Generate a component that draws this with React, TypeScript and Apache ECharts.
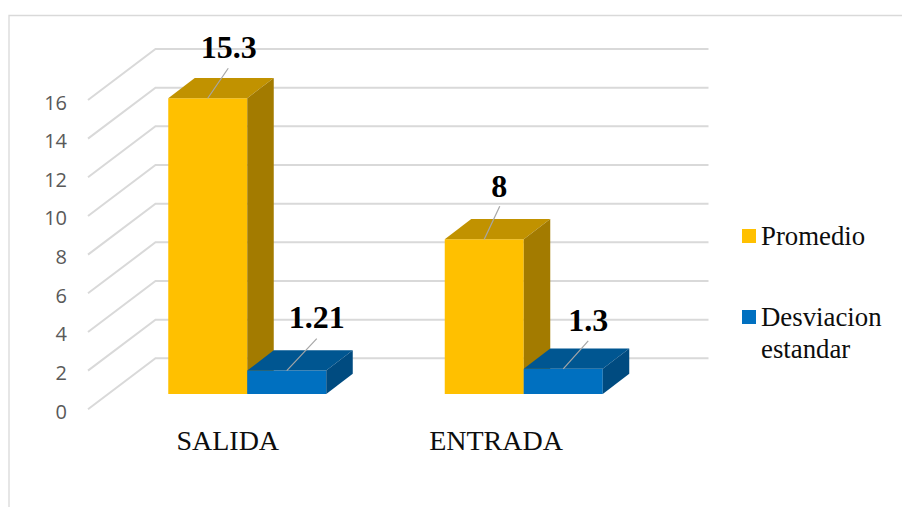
import React, { useEffect, useRef } from "react";
import * as echarts from "echarts";

const categories = ["SALIDA", "ENTRADA"];
const promedio = [15.3, 8];
const desviacion = [1.21, 1.3];
const yTicks = [0, 2, 4, 6, 8, 10, 12, 14, 16];

const SERIF = "'Liberation Serif', 'Times New Roman', serif";
const SANS = "'Open Sans', 'Noto Sans', sans-serif";
const GRID_COLOR = "#d9d9d9";
const BAR_W = 79;
const WALL_DX = 67.5;
const WALL_DY = 51;
const FLOOR_DX = 21;
const FLOOR_DY = 15.3;
const DEPTH_DX = 26.5;
const DEPTH_DY = 20.3;

// leader end and label centre, relative to the middle of each bar's top front edge
const promedioLabelOffsets = [
  { lx: 20.5, ly: -30, tx: 21, ty: -51 },
  { lx: 15.5, ly: -33, tx: 15, ty: -53 },
];
const desviacionLabelOffsets = [
  { lx: 30, ly: -32, tx: 30, ty: -54 },
  { lx: 25, ly: -28, tx: 25, ty: -49 },
];

function bar3d(
  colors: { front: string; top: string; side: string },
  side: -1 | 0,
  offsets: { lx: number; ly: number; tx: number; ty: number }[]
) {
  return (params: any, api: any) => {
    const cat = api.value(0);
    const val = api.value(1);
    const base = api.coord([cat, 0]);
    const top = api.coord([cat, val]);
    const x0 = base[0] + FLOOR_DX + side * BAR_W;
    const x1 = x0 + BAR_W;
    const yb = base[1] - FLOOR_DY;
    const yt = top[1] - FLOOR_DY;
    const cx = (x0 + x1) / 2;
    const o = offsets[params.dataIndex];
    return {
      type: "group",
      children: [
        {
          type: "polygon",
          shape: { points: [[x0, yb], [x1, yb], [x1, yt], [x0, yt]] },
          style: { fill: colors.front },
        },
        {
          type: "polygon",
          shape: { points: [[x0, yt], [x1, yt], [x1 + DEPTH_DX, yt - DEPTH_DY], [x0 + DEPTH_DX, yt - DEPTH_DY]] },
          style: { fill: colors.top },
        },
        {
          type: "polygon",
          shape: { points: [[x1, yb], [x1 + DEPTH_DX, yb - DEPTH_DY], [x1 + DEPTH_DX, yt - DEPTH_DY], [x1, yt]] },
          style: { fill: colors.side },
        },
        {
          type: "line",
          shape: { x1: cx, y1: yt, x2: cx + o.lx, y2: yt + o.ly },
          style: { stroke: "#a6a6a6", lineWidth: 1.2 },
        },
        {
          type: "text",
          style: {
            text: String(val),
            x: cx + o.tx,
            y: yt + o.ty,
            align: "center",
            verticalAlign: "middle",
            fontFamily: SERIF,
            fontWeight: "bold",
            fontSize: 32,
            fill: "#000000",
          },
        },
      ],
    };
  };
}

function wallLine(params: any, api: any) {
  const y = api.coord([0, api.value(1)])[1];
  const x0 = params.coordSys.x;
  const x1 = x0 + params.coordSys.width;
  return {
    type: "polyline",
    shape: { points: [[x0, y], [x0 + WALL_DX, y - WALL_DY], [x1 + WALL_DX, y - WALL_DY]] },
    style: { stroke: GRID_COLOR, lineWidth: 2, fill: "none" },
  };
}

export default function App() {
  const ref = useRef<HTMLDivElement>(null);
  useEffect(() => {
    document.body.style.margin = "0";
    const chart = echarts.init(ref.current!, undefined, { renderer: "svg" });
    chart.setOption({
      animation: false,
      backgroundColor: "#ffffff",
      grid: { left: 88, top: 100, width: 553, height: 309.3 },
      graphic: [
        {
          type: "polyline",
          shape: { points: [[9, 507], [9, 15.5], [902, 15.5]] },
          style: { stroke: GRID_COLOR, lineWidth: 1.3, fill: "none" },
          silent: true,
        },
      ],
      legend: {
        orient: "vertical",
        left: 742,
        top: 220,
        padding: 0,
        itemGap: 17,
        itemWidth: 14,
        itemHeight: 14,
        icon: "rect",
        selectedMode: false,
        // a blank first line keeps the square level with "Desviacion"
        formatter: (name: string) => (name.includes(" ") ? "\n" + name.replace(" ", "\n") : name),
        textStyle: { fontFamily: SERIF, fontSize: 26.8, lineHeight: 32, color: "#0d0d0d" },
        data: [{ name: "Promedio" }, { name: "Desviacion estandar" }],
      },
      xAxis: {
        type: "category",
        data: [
          { value: categories[0], textStyle: { padding: [0, 0, 0, 3] } },
          { value: categories[1], textStyle: { padding: [0, 13.5, 0, 0] } },
        ],
        axisLine: { show: false },
        axisTick: { show: false },
        axisLabel: { interval: 0, margin: 17, fontFamily: SERIF, fontSize: 28, color: "#0d0d0d" },
      },
      yAxis: {
        type: "value",
        min: 0,
        max: 16,
        interval: 2,
        axisLine: { show: false },
        axisTick: { show: false },
        splitLine: { show: false },
        axisLabel: {
          margin: 21,
          formatter: "{t|{value}}",
          rich: { t: { padding: [4, 0, 0, 0], fontFamily: SANS, fontSize: 20, color: "#595959" } },
        },
      },
      series: [
        {
          type: "custom",
          name: "wall",
          silent: true,
          clip: false,
          renderItem: wallLine,
          encode: { x: 0, y: 1 },
          data: yTicks.map((v) => [0, v]),
          z: 1,
        },
        {
          type: "custom",
          name: "Promedio",
          clip: false,
          itemStyle: { color: "#FFC000" },
          renderItem: bar3d({ front: "#FFC000", top: "#C19200", side: "#A37B00" }, -1, promedioLabelOffsets),
          encode: { x: 0, y: 1 },
          data: promedio.map((v, i) => [i, v]),
          z: 2,
        },
        {
          type: "custom",
          name: "Desviacion estandar",
          clip: false,
          itemStyle: { color: "#0070C0" },
          renderItem: bar3d({ front: "#0070C0", top: "#005691", side: "#004B80" }, 0, desviacionLabelOffsets),
          encode: { x: 0, y: 1 },
          data: desviacion.map((v, i) => [i, v]),
          z: 3,
        },
      ],
    });
    return () => chart.dispose();
  }, []);
  return <div ref={ref} style={{ width: 902, height: 507 }} />;
}
